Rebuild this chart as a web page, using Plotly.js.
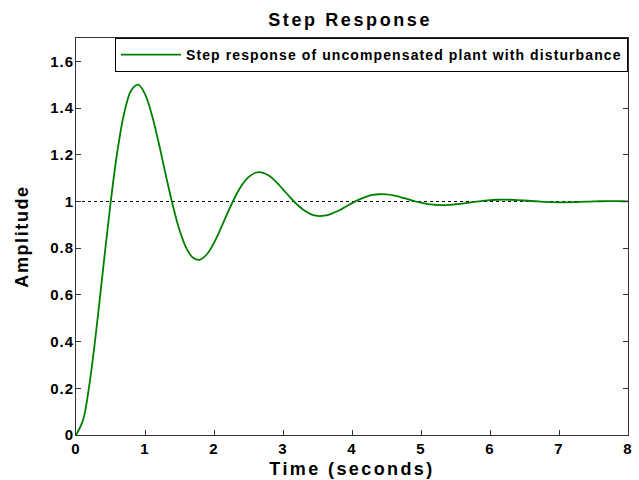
<!DOCTYPE html>
<html>
<head>
<meta charset="utf-8">
<script src="https://cdn.plot.ly/plotly-3.0.1.min.js"></script>
<style>
html,body{margin:0;padding:0;background:#fff;}
#chart{width:639px;height:480px;}
.gtitle{letter-spacing:2.6px;}
.xtitle{letter-spacing:2.4px;}
.ytitle{letter-spacing:1.6px;}
.legendtext{letter-spacing:1.1px;}
.xtick text,.ytick text{letter-spacing:1px;}
</style>
</head>
<body>
<div id="chart"></div>
<script>
// Time samples (seconds)
const timeS = [0,0.1,0.2,0.3,0.4,0.5,0.6,0.7,0.8,0.9,1.0,1.1,1.2,1.3,1.4,1.5,1.6,1.7,1.8,1.9,
  2.0,2.1,2.2,2.3,2.4,2.5,2.6,2.7,2.8,2.9,3.0,3.1,3.2,3.3,3.4,3.5,3.6,3.7,3.8,3.9,
  4.0,4.1,4.2,4.3,4.4,4.5,4.6,4.7,4.8,4.9,5.0,5.1,5.2,5.3,5.4,5.5,5.6,5.7,5.8,5.9,
  6.0,6.1,6.2,6.3,6.4,6.5,6.6,6.7,6.8,6.9,7.0,7.1,7.2,7.3,7.4,7.5,7.6,7.7,7.8,7.9,8.0];
// Amplitude
const amplitude = [0,0.062,0.228,0.464,0.731,0.991,1.215,1.380,1.475,1.500,1.460,1.370,1.249,1.115,0.987,0.878,0.800,0.758,0.751,0.775,
  0.823,0.886,0.953,1.016,1.068,1.104,1.123,1.124,1.110,1.084,1.052,1.019,0.988,0.963,0.946,0.938,0.939,0.947,0.960,0.976,
  0.993,1.008,1.020,1.028,1.031,1.030,1.026,1.019,1.011,1.002,0.995,0.989,0.986,0.984,0.985,0.988,0.991,0.995,0.9995,1.003,
  1.006,1.0074,1.0078,1.0073,1.006,1.0041,1.002,1.000,0.998,0.997,0.9965,0.9965,0.997,0.998,0.999,1.000,1.001,1.0015,1.0015,1.001,1.0008];
// Steady-state reference line
const refX = [0, 8];
const refY = [1, 1];
const legendName = "Step response of uncompensated plant with disturbance";

const FAMILY = "Liberation Sans, Arial, Helvetica, sans-serif";
const tickFont = {family: FAMILY, size: 15, color: "#000", weight: "bold"};

const traces = [
  {x: refX, y: refY, mode: "lines", line: {color: "#000", width: 1, dash: "3px,3px"}, showlegend: false, hoverinfo: "skip"},
  {x: timeS, y: amplitude, mode: "lines", name: legendName, line: {color: "#008000", width: 1.8, shape: "spline"}}
];

const layout = {
  width: 639, height: 480,
  paper_bgcolor: "#fff", plot_bgcolor: "#fff",
  margin: {l: 76, r: 11, t: 38, b: 45},
  font: {family: FAMILY, color: "#000"},
  title: {text: "<b>Step Response</b>", font: {family: FAMILY, size: 18, color: "#000"}, x: 0.548, xanchor: "center", y: 0.958, yanchor: "middle"},
  xaxis: {
    range: [0, 8], dtick: 1, tick0: 0,
    showgrid: false, zeroline: false,
    showline: true, linecolor: "#333", linewidth: 1, mirror: "allticks",
    ticks: "inside", ticklen: 5, tickcolor: "#333",
    tickfont: tickFont,
    title: {text: "<b>Time (seconds)</b>", font: {family: FAMILY, size: 18, color: "#000"}, standoff: 6}
  },
  yaxis: {
    range: [0, 1.7], dtick: 0.2, tick0: 0,
    showgrid: false, zeroline: false,
    showline: true, linecolor: "#333", linewidth: 1, mirror: "allticks",
    ticks: "inside", ticklen: 5, tickcolor: "#333",
    ticklabelstandoff: -2,
    tickfont: tickFont,
    title: {text: "<b>Amplitude</b>", font: {family: FAMILY, size: 18, color: "#000"}, standoff: 16}
  },
  legend: {
    x: 1, xanchor: "right", y: 1, yanchor: "top",
    itemwidth: 60,
    bgcolor: "#fff", bordercolor: "#000", borderwidth: 1,
    font: {family: FAMILY, size: 14, color: "#000", weight: "bold"}
  },
  showlegend: true
};

Plotly.newPlot("chart", traces, layout, {staticPlot: true, displayModeBar: false});
</script>
</body>
</html>
